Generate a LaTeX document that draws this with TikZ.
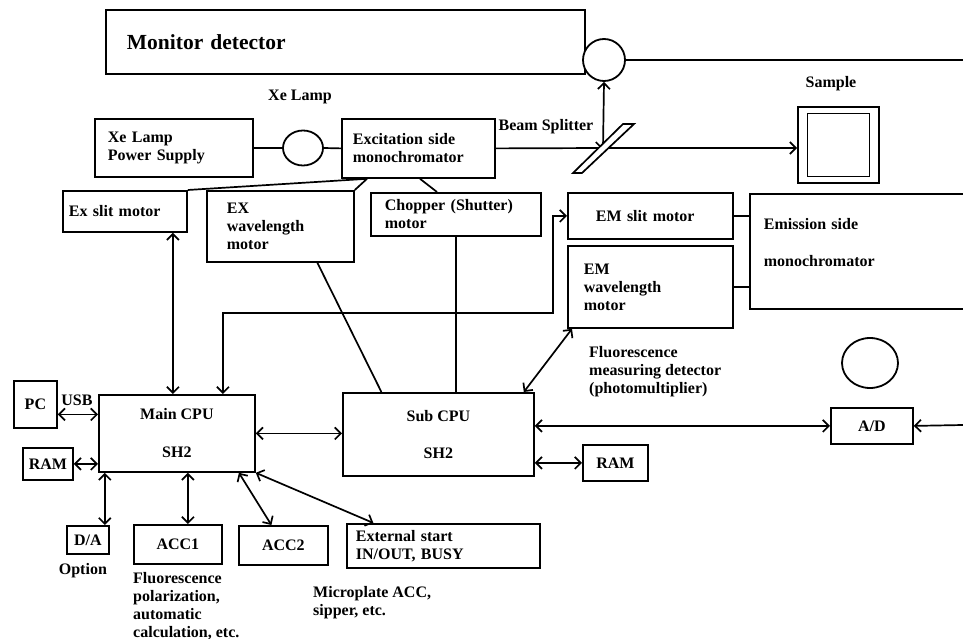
\documentclass[tikz,border=0pt]{standalone}
\usepackage{fontspec}
\setmainfont{Liberation Serif}
\usetikzlibrary{arrows.meta,positioning,shapes.geometric,calc}
\tikzset{
  hwbox/.style  ={draw, line width=1.8pt, anchor=north west, align=left, inner ysep=0pt,
                  font=\bfseries\fontsize{16}{18}\selectfont},
  hwcbox/.style ={hwbox, align=center},
  hwlbl/.style  ={inner sep=0pt, align=left, font=\bfseries\fontsize{16}{18}\selectfont},
  hwcirc/.style ={draw, line width=1.8pt, ellipse, fill=white, inner sep=0pt},
  hwsq/.style   ={draw, line width=1.8pt, inner sep=0pt},
  hwline/.style ={line width=1.7pt},
  hwar/.style   ={-{Straight Barb[length=6pt,width=12pt]}, line width=1.7pt},
  hwdar/.style  ={{Straight Barb[length=6pt,width=12pt]}-{Straight Barb[length=6pt,width=12pt]}, line width=1.7pt},
}
\begin{document}
\begin{tikzpicture}[x=1pt, y=-1pt]
\useasboundingbox (0,0) rectangle (963,639);
\clip (0,0) rectangle (963,639);
\node[hwbox, text width=437pt, inner xsep=21pt, minimum height=64pt,
      font=\bfseries\fontsize{21.5}{24}\selectfont] (mon) at (105,9) {Monitor detector};
\node[hwcirc, minimum width=42pt, minimum height=42pt] (moncirc) at (604,60) {};
\node[hwlbl] (xelbl) at (300,97) {Xe Lamp};
\node[hwbox, text width=132pt, inner xsep=13pt, minimum height=58pt] (xps) at (94,118) {Xe Lamp\\Power Supply};
\node[hwcirc, minimum width=40pt, minimum height=35pt] (lamp) at (303,148) {};
\node[hwbox, text width=131pt, inner xsep=11pt, minimum height=59pt] (exmono) at (341,118)
  {Excitation side\\monochromator};
\node[hwlbl] (bslbl) at (546,127) {Beam Splitter};
\node[hwlbl] (samlbl) at (831,84) {Sample};
\node[hwsq, minimum width=81pt, minimum height=76pt] (samp) at (838.5,145) {};
\node[hwsq, minimum width=62pt, minimum height=63pt] (sampin) at (samp.center) {};
\coordinate (bs) at (603,148);
\coordinate (rtop) at (963,60);
\coordinate (rad) at (963,425);

\node[hwbox, text width=112pt, inner xsep=6pt, minimum height=41pt] (exslit) at (62,190) {Ex slit motor};
\node[hwbox, text width=107pt, inner xsep=20pt, minimum height=71pt] (exwl) at (206,190) {EX\\wavelength\\motor};
\node[hwbox, text width=142pt, inner xsep=14pt, minimum height=43pt] (chop) at (370,192) {Chopper (Shutter)\\motor};
\node[hwbox, text width=109pt, inner xsep=28pt, minimum height=46pt] (emslit) at (567,192) {EM slit motor};
\node[hwbox, text width=133pt, inner xsep=16pt, minimum height=82pt] (emwl) at (567,245) {EM\\wavelength\\motor};
\node[hwbox, text width=200pt, inner xsep=14pt, minimum height=115pt] (emmono) at (749,193)
  {Emission side\\[19pt]monochromator\\\mbox{}};
\node[hwlbl, anchor=north west] (fmdlbl) at (589,346) {Fluorescence\\measuring detector\\(photomultiplier)};
\node[hwcirc, minimum width=56pt, minimum height=50pt] (detcirc) at (870,363) {};

\node[hwcbox, minimum width=43pt, minimum height=47pt] (pc) at (13,380) {PC};
\node[hwlbl] (usblbl) at (77,400) {USB};
\node[hwcbox, minimum width=50pt, minimum height=32pt] (ramm) at (22,447) {RAM};
\node[hwcbox, minimum width=156pt, minimum height=77pt] (maincpu) at (98,394) {Main CPU\\[20pt]SH2};
\node[hwcbox, minimum width=191pt, minimum height=83pt] (subcpu) at (342,392) {Sub CPU\\[19pt]SH2};
\node[hwcbox, minimum width=65pt, minimum height=36pt] (rams) at (582,444) {RAM};
\node[hwcbox, minimum width=82pt, minimum height=36pt] (ad) at (830,407) {A/D};
\node[hwcbox, minimum width=42pt, minimum height=28pt] (da) at (66,525) {D/A};
\node[hwlbl, below=8pt of da, xshift=-5pt] (optlbl) {Option};
\node[hwcbox, minimum width=88pt, minimum height=39pt] (acc1) at (133,524) {ACC1};
\node[hwlbl, below right=7pt and 0pt of acc1.south west] (acc1lbl)
  {Fluorescence\\polarization,\\automatic\\calculation, etc.};
\node[hwcbox, minimum width=89pt, minimum height=39pt] (acc2) at (238,525) {ACC2};
\node[hwbox, text width=175pt, inner xsep=9pt, minimum height=44pt] (ext) at (346,523) {External start\\IN/OUT, BUSY};
\node[hwlbl, anchor=north west] (microlbl) at (313,586) {Microplate ACC,\\sipper, etc.};

\coordinate (mcslit) at ([xshift=-4pt]maincpu.north);
\path (pc.east) ++(0,10) coordinate (pcusb);
\coordinate (dan) at ([xshift=-5pt]da.north east);
\coordinate (acn) at ([xshift=10pt]acc1.north);

\draw[hwline] (xps.east) -- (lamp.west);
\draw[hwline] (lamp.east) -- (exmono.west);
\draw[hwar] (exmono.east) -- (bs);
\draw[hwar] (bs) -- (bs -| samp.west);
\draw[hwar] (bs) -- (moncirc.south);
\draw[hwline] (moncirc.east) -- (rtop);
\draw[hwline, fill=white] (573,173) -- (582,173) -- (634,124) -- (623,124) -- cycle;
\draw[hwline] ([xshift=26pt]exmono.south west) -- (exslit.north east);
\draw[hwline] ([xshift=26pt]exmono.south west) -- (exwl.north east);
\draw[hwline] ([xshift=79pt]exmono.south west) -- ([xshift=67pt]chop.north west);
\draw[hwline] (emslit.east) -- (emslit.east -| emmono.west);
\draw[hwline] (emwl.east) -- (emwl.east -| emmono.west);
\draw[hwdar] (mcslit |- exslit.south) -- (mcslit);
\draw[hwline] ([xshift=37pt]exwl.south) -- ([xshift=-57pt]subcpu.north);
\draw[hwline] (chop.south) -- (chop.south |- subcpu.north);
\draw[hwdar] ([xshift=46pt]maincpu.north) -- ++(0,-81) -| ([xshift=-14pt]emslit.west) -- (emslit.west);
\draw[hwdar] ([xshift=5pt]emwl.south west) -- ([xshift=-11pt]subcpu.north east);
\draw[hwdar] (maincpu.east) -- (maincpu.east -| subcpu.west);
\draw[hwdar] (ad.west -| subcpu.east) -- (ad.west);
\draw[hwar] (rad) -- (ad.east);
\draw[hwdar] (rams.west -| subcpu.east) -- (rams.west);
\draw[hwdar] (pcusb) -- (pcusb -| maincpu.west);
\draw[hwdar] (ramm.east) -- (ramm.east -| maincpu.west);
\draw[hwdar] (dan) -- (dan |- maincpu.south);
\draw[hwdar] (acn) -- (acn |- maincpu.south);
\draw[hwdar] ([xshift=62pt]maincpu.south) -- ([xshift=-12pt]acc2.north);
\draw[hwdar] (maincpu.south east) -- ([xshift=-70pt]ext.north);
\end{tikzpicture}
\end{document}
